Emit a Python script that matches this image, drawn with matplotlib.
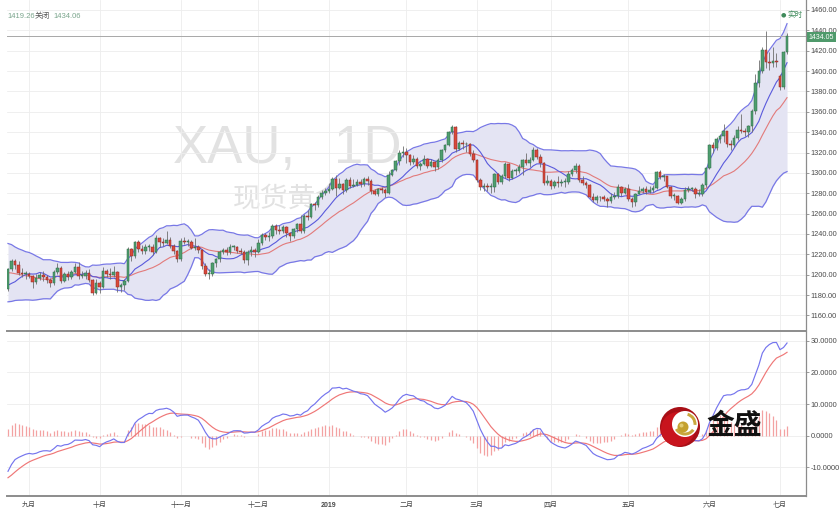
import numpy as np
import pandas as pd
import matplotlib
matplotlib.use("Agg")
import matplotlib.pyplot as plt
from matplotlib.patches import Circle, Wedge
from matplotlib.ticker import FixedLocator, FixedFormatter

plt.rcParams['font.family'] = ['Liberation Sans', 'Noto Sans CJK SC', 'DejaVu Sans']

# ---------------- data ----------------
# closes before the first visible bar (needed so that the indicators exist at the left edge)
pre_closes = [
    1341, 1333, 1333, 1326, 1332, 1336, 1339, 1353, 1334, 1345, 1347, 1346, 1349, 1345, 1336, 1324, 1333, 1322, 1317, 1323, 1315,
    1305, 1306, 1314, 1314, 1314, 1313, 1313, 1321, 1319, 1313, 1290, 1291, 1290, 1291, 1291, 1291, 1295, 1304, 1302, 1297, 1298, 1299, 1299,
    1294, 1292, 1291, 1296, 1298, 1298, 1300, 1294, 1299, 1302, 1278, 1282, 1276, 1269, 1269, 1270, 1267, 1257, 1253, 1247, 1253,
    1242, 1253, 1253, 1256, 1255, 1259, 1255, 1246, 1246, 1241, 1240, 1227, 1224, 1223, 1231, 1224, 1225, 1231, 1222, 1223, 1220, 1224,
    1217, 1213, 1214, 1208, 1211, 1213, 1212, 1212, 1194, 1194, 1174, 1177, 1184, 1190, 1196, 1195, 1186]

opens = [
    1186, 1206, 1213, 1210, 1202, 1201, 1201, 1199, 1193, 1197,
    1200, 1198, 1195, 1192, 1203, 1207, 1194, 1201, 1198, 1203,
    1208, 1199, 1199, 1202, 1195, 1182, 1192, 1188, 1204, 1201,
    1200, 1203, 1188, 1190, 1194, 1225, 1218, 1232, 1225, 1223,
    1227, 1227, 1222, 1236, 1232, 1231, 1234, 1228, 1223, 1215,
    1233, 1232, 1232, 1226, 1227, 1224, 1209, 1201, 1201, 1211,
    1215, 1222, 1224, 1222, 1227, 1227, 1223, 1222, 1214, 1222,
    1224, 1222, 1231, 1239, 1237, 1238, 1248, 1244, 1243, 1247,
    1241, 1238, 1245, 1250, 1243, 1258, 1257, 1269, 1268, 1276,
    1280, 1282, 1284, 1294, 1285, 1289, 1283, 1293, 1287, 1288,
    1291, 1289, 1294, 1292, 1282, 1279, 1284, 1283, 1280, 1298,
    1303, 1312, 1320, 1321, 1318, 1311, 1314, 1307, 1309, 1314,
    1307, 1311, 1306, 1313, 1322, 1327, 1340, 1345, 1323, 1329,
    1328, 1328, 1319, 1313, 1293, 1286, 1287, 1286, 1286, 1299,
    1291, 1297, 1309, 1295, 1302, 1302, 1306, 1313, 1310, 1313,
    1322, 1316, 1310, 1290, 1292, 1287, 1291, 1290, 1291, 1291,
    1299, 1303, 1307, 1293, 1290, 1288, 1276, 1273, 1276, 1276,
    1274, 1272, 1276, 1277, 1286, 1280, 1284, 1274, 1271, 1279,
    1282, 1284, 1281, 1283, 1285, 1301, 1296, 1297, 1286, 1277,
    1277, 1270, 1274, 1283, 1284, 1284, 1279, 1279, 1288, 1305,
    1327, 1324, 1333, 1336, 1341, 1328, 1327, 1334, 1342, 1341,
    1340, 1346, 1361, 1388, 1400, 1421, 1409, 1408, 1410, 1395,
    1384, 1419]

highs = [
    1207, 1215, 1215, 1213, 1207, 1204, 1203, 1200, 1201, 1203,
    1204, 1200, 1197, 1205, 1211, 1209, 1203, 1204, 1205, 1211,
    1212, 1204, 1205, 1206, 1196, 1196, 1194, 1208, 1206, 1207,
    1209, 1204, 1192, 1196, 1227, 1226, 1233, 1234, 1229, 1230,
    1230, 1230, 1239, 1237, 1236, 1243, 1237, 1230, 1224, 1236,
    1237, 1235, 1234, 1236, 1229, 1225, 1211, 1206, 1212, 1216,
    1224, 1226, 1227, 1230, 1229, 1228, 1226, 1224, 1224, 1228,
    1226, 1235, 1241, 1241, 1242, 1250, 1250, 1249, 1249, 1248,
    1242, 1246, 1251, 1259, 1260, 1264, 1270, 1271, 1278, 1283,
    1285, 1290, 1296, 1298, 1295, 1290, 1295, 1296, 1294, 1294,
    1294, 1296, 1297, 1294, 1284, 1285, 1286, 1285, 1302, 1304,
    1313, 1322, 1326, 1324, 1319, 1318, 1316, 1311, 1318, 1315,
    1314, 1312, 1315, 1323, 1328, 1341, 1347, 1346, 1331, 1332,
    1330, 1329, 1322, 1314, 1295, 1290, 1290, 1290, 1300, 1300,
    1299, 1311, 1310, 1304, 1305, 1309, 1314, 1320, 1316, 1325,
    1324, 1319, 1311, 1298, 1294, 1293, 1297, 1294, 1295, 1302,
    1305, 1310, 1309, 1297, 1292, 1289, 1280, 1278, 1277, 1278,
    1276, 1280, 1281, 1289, 1287, 1286, 1289, 1276, 1280, 1287,
    1286, 1287, 1287, 1288, 1302, 1303, 1299, 1297, 1287, 1280,
    1278, 1276, 1286, 1287, 1286, 1286, 1284, 1290, 1306, 1328,
    1330, 1335, 1338, 1348, 1341, 1332, 1337, 1346, 1358, 1344,
    1347, 1363, 1397, 1411, 1424, 1439, 1419, 1424, 1418, 1397,
    1420, 1437]

lows = [
    1184, 1204, 1206, 1200, 1198, 1196, 1197, 1187, 1191, 1195,
    1194, 1192, 1188, 1190, 1201, 1192, 1193, 1195, 1196, 1202,
    1196, 1197, 1196, 1193, 1180, 1181, 1182, 1187, 1198, 1196,
    1198, 1183, 1183, 1185, 1193, 1213, 1216, 1222, 1220, 1220,
    1223, 1219, 1221, 1227, 1228, 1230, 1226, 1220, 1212, 1213,
    1230, 1228, 1225, 1224, 1221, 1206, 1199, 1196, 1199, 1208,
    1212, 1220, 1219, 1220, 1224, 1221, 1220, 1211, 1210, 1218,
    1217, 1221, 1229, 1234, 1233, 1236, 1240, 1240, 1241, 1237,
    1233, 1236, 1242, 1241, 1241, 1254, 1256, 1264, 1266, 1274,
    1278, 1280, 1283, 1277, 1284, 1279, 1281, 1285, 1286, 1287,
    1286, 1287, 1288, 1279, 1278, 1277, 1280, 1276, 1279, 1297,
    1302, 1308, 1316, 1310, 1308, 1309, 1305, 1303, 1308, 1305,
    1306, 1302, 1304, 1311, 1321, 1326, 1338, 1321, 1322, 1323,
    1321, 1317, 1311, 1291, 1283, 1282, 1282, 1280, 1281, 1289,
    1289, 1295, 1292, 1294, 1298, 1300, 1298, 1308, 1306, 1312,
    1314, 1306, 1288, 1288, 1284, 1285, 1286, 1287, 1286, 1289,
    1297, 1300, 1291, 1288, 1285, 1275, 1271, 1270, 1272, 1272,
    1266, 1270, 1274, 1275, 1277, 1279, 1272, 1266, 1267, 1279,
    1280, 1279, 1280, 1281, 1284, 1294, 1292, 1285, 1275, 1273,
    1269, 1269, 1272, 1281, 1282, 1275, 1277, 1277, 1286, 1304,
    1320, 1322, 1329, 1330, 1325, 1322, 1325, 1332, 1339, 1336,
    1335, 1340, 1358, 1384, 1398, 1403, 1401, 1404, 1404, 1381,
    1382, 1417]

closes = [
    1206, 1213, 1210, 1202, 1201, 1201, 1199, 1193, 1197, 1200,
    1198, 1195, 1192, 1203, 1207, 1194, 1201, 1198, 1203, 1208,
    1199, 1199, 1202, 1195, 1182, 1192, 1188, 1204, 1201, 1200,
    1203, 1188, 1190, 1194, 1225, 1218, 1232, 1225, 1223, 1227,
    1227, 1222, 1236, 1232, 1231, 1234, 1228, 1223, 1215, 1233,
    1232, 1232, 1226, 1227, 1224, 1209, 1201, 1201, 1211, 1215,
    1222, 1224, 1222, 1227, 1227, 1223, 1222, 1214, 1222, 1224,
    1222, 1231, 1239, 1237, 1238, 1248, 1244, 1243, 1247, 1241,
    1238, 1245, 1250, 1243, 1258, 1257, 1269, 1268, 1276, 1280,
    1282, 1284, 1294, 1285, 1289, 1283, 1293, 1287, 1288, 1291,
    1289, 1294, 1292, 1282, 1279, 1284, 1283, 1280, 1298, 1303,
    1312, 1320, 1321, 1318, 1311, 1314, 1307, 1309, 1314, 1307,
    1311, 1306, 1313, 1322, 1327, 1340, 1345, 1323, 1329, 1328,
    1328, 1319, 1313, 1293, 1286, 1287, 1286, 1286, 1299, 1291,
    1297, 1309, 1295, 1302, 1302, 1306, 1313, 1310, 1313, 1322,
    1316, 1310, 1290, 1292, 1287, 1291, 1290, 1291, 1291, 1299,
    1303, 1307, 1293, 1290, 1288, 1276, 1273, 1276, 1276, 1274,
    1272, 1276, 1277, 1286, 1280, 1284, 1274, 1271, 1279, 1282,
    1284, 1281, 1283, 1285, 1301, 1296, 1297, 1286, 1277, 1277,
    1270, 1274, 1283, 1284, 1284, 1279, 1279, 1288, 1305, 1327,
    1324, 1333, 1336, 1341, 1328, 1327, 1334, 1342, 1341, 1340,
    1346, 1361, 1388, 1400, 1421, 1409, 1408, 1410, 1409, 1384,
    1419, 1434]

month_names = {9: '九月', 10: '十月', 11: '十一月', 12: '十二月', 1: '2019',
               2: '二月', 3: '三月', 4: '四月', 5: '五月', 6: '六月', 7: '七月'}
holidays = ['2018-12-25', '2019-01-01']
price_ticks = list(range(1160, 1461, 20))
macd_ticks = [-10, 0, 10, 20, 30]
last_price = 1434.06
header_open = '1419.26'
header_close = '1434.06'
price_label = '1434.05'

# ---------------- derived ----------------
n = min(len(opens), len(highs), len(lows), len(closes))
o = np.array(opens[:n], float); h = np.array(highs[:n], float)
l = np.array(lows[:n], float); c = np.array(closes[:n], float)
x = np.arange(n)

dates = pd.bdate_range('2018-08-24', '2019-07-03')
dates = dates[~dates.isin(pd.to_datetime(holidays))][:n]
mstart = [i for i in range(1, len(dates)) if dates[i].month != dates[i - 1].month]
mlabels = [month_names[dates[i].month] for i in mstart]

allc = pd.Series(list(pre_closes) + list(c))
k = len(pre_closes)
ma20 = allc.rolling(20).mean().values[k:]
sd20 = allc.rolling(20).std(ddof=0).values[k:]
ma10 = allc.rolling(10).mean().values[k:]
upper = ma20 + 2 * sd20
lower = ma20 - 2 * sd20
ema12 = allc.ewm(span=12, adjust=False).mean()
ema26 = allc.ewm(span=26, adjust=False).mean()
macd_all = ema12 - ema26
sig_all = macd_all.ewm(span=9, adjust=False).mean()
macd = macd_all.values[k:]
sig = sig_all.values[k:]
hist = macd - sig

# ---------------- figure ----------------
W, H = 839, 516
fig = plt.figure(figsize=(W / 100, H / 100), dpi=100)
fig.patch.set_facecolor('white')

x0, x1 = 7, 806
ax1 = fig.add_axes([x0 / W, 1 - 331 / H, (x1 - x0) / W, 331 / H])
ax2 = fig.add_axes([x0 / W, 1 - 496 / H, (x1 - x0) / W, (496 - 332) / H])

px_per_bar = 3.525
xl = (-1 / px_per_bar, (x1 - 8) / px_per_bar)
for ax in (ax1, ax2):
    ax.set_xlim(*xl)
    ax.set_facecolor('white')
    for s in ('top', 'left'):
        ax.spines[s].set_visible(False)
    ax.spines['right'].set_color('#8c8c8c')
    ax.spines['right'].set_linewidth(0.9)
    ax.spines['bottom'].set_color('#8c8c8c')
    ax.spines['bottom'].set_linewidth(1.4)
    ax.yaxis.tick_right()
    ax.tick_params(axis='y', which='both', labelsize=5.3, colors='#8c8c8c',
                   labelcolor='#4a4a4a', length=2.5, width=0.6, pad=1.0)
    ax.xaxis.set_major_locator(FixedLocator(mstart))
    ax.grid(True, color='#ededed', linewidth=0.6, zorder=0)
    ax.set_axisbelow(True)

# main panel
ax1.set_ylim(1144.7, 1469.8)
ax1.yaxis.set_major_locator(FixedLocator(price_ticks))
ax1.yaxis.set_major_formatter(FixedFormatter(['%.2f' % v for v in price_ticks]))
ax1.tick_params(axis='x', length=0, labelbottom=False)

ax1.text(173 / W, 1 - 163 / H, 'XAU,', transform=fig.transFigure, ha='left', va='baseline',
         fontsize=38, color='#e2e2e2', zorder=0.5)
ax1.text(402 / W, 1 - 163 / H, '1D', transform=fig.transFigure, ha='right', va='baseline',
         fontsize=38, color='#e2e2e2', zorder=0.5)
ax1.text(288 / W, 1 - 199 / H, '现货黄金', transform=fig.transFigure, ha='center', va='center',
         fontsize=20, color='#e2e2e2', family=['Noto Sans CJK SC', 'DejaVu Sans'], zorder=0.5)

ax1.fill_between(x, upper, lower, color='#e4e4f3', linewidth=0, zorder=1)
ax1.plot(x, upper, color='#7878e6', lw=0.9, zorder=2)
ax1.plot(x, lower, color='#7878e6', lw=0.9, zorder=2)
ax1.plot(x, ma20, color='#e27a7a', lw=0.8, zorder=2)
ax1.plot(x, ma10, color='#5a5adc', lw=0.8, zorder=2)
ax1.axhline(last_price, color='#a8a8a8', lw=0.7, zorder=2)

up = c >= o
bottom = np.minimum(o, c)
height = np.maximum(np.abs(c - o), 0.8)
ax1.vlines(x, l, h, color='#6e6e6e', lw=0.6, zorder=3)
ax1.bar(x[up], height[up], bottom=bottom[up], width=0.72, color='#4f9e6f',
        edgecolor='#2d6a47', linewidth=0.35, zorder=4)
ax1.bar(x[~up], height[~up], bottom=bottom[~up], width=0.72, color='#d9493c',
        edgecolor='#8e2a22', linewidth=0.35, zorder=4)

ax1.annotate(price_label, xy=(1.0, last_price), xycoords=('axes fraction', 'data'),
             xytext=(2.0, -0.6), textcoords='offset points', ha='left', va='center',
             fontsize=5.0, color='white', annotation_clip=False,
             bbox=dict(boxstyle='square,pad=0.22', fc='#4f9a6b', ec='none'))

# MACD panel
ax2.set_ylim(-19.1, 32.8)
ax2.yaxis.set_major_locator(FixedLocator(macd_ticks))
ax2.yaxis.set_major_formatter(FixedFormatter([('%.4f' % v) for v in macd_ticks]))
ax2.vlines(x, 0, hist, color='#f3a2a2', lw=0.9, zorder=2)
ax2.plot(x, sig, color='#ef7777', lw=0.85, zorder=3)
ax2.plot(x, macd, color='#7575ee', lw=0.85, zorder=3)
ax2.xaxis.set_major_formatter(FixedFormatter(mlabels))
ax2.tick_params(axis='x', length=0, labelsize=5, labelcolor='#4a4a4a', pad=4)
for t in ax2.get_xticklabels():
    if t.get_text().isdigit():
        t.set_fontweight('bold')

# header texts
fig.text(7 / W, 1 - 16.7 / H, header_open, fontsize=5.5, color='#7aa58c', va='center', ha='left')
fig.text(35 / W, 1 - 16.7 / H, '关闭', fontsize=5.5, color='#555555', va='center', ha='left')
fig.text(53 / W, 1 - 16.7 / H, header_close, fontsize=5.5, color='#7aa58c', va='center', ha='left')
fig.text(783 / W, 1 - 15.3 / H, '●', fontsize=4.5, color='#3f8a5b', va='center', ha='center',
         family=['DejaVu Sans'])
fig.text(787.5 / W, 1 - 15.3 / H, '实时', fontsize=5.5, color='#3f8a5b', va='center', ha='left')

# logo overlay (pixel coordinates)
axl = fig.add_axes([0, 0, 1, 1], zorder=10)
axl.set_xlim(0, W)
axl.set_ylim(H, 0)
axl.axis('off')
axl.patch.set_alpha(0)
axl.add_patch(Circle((680, 427), 20, fc='#a80f16', ec='none'))
axl.add_patch(Circle((678, 429), 17, fc='#c8141d', ec='none'))
axl.add_patch(Circle((685, 424), 13, fc='white', ec='none'))
axl.add_patch(Wedge((685, 424), 11.5, 35, 150, width=3, fc='#c9a63c', ec='none'))
axl.add_patch(Wedge((685, 424), 11.5, -75, 5, width=3, fc='#c9a63c', ec='none'))
axl.add_patch(Circle((683, 427), 5.5, fc='#c4a12e', ec='none'))
axl.add_patch(Circle((681.5, 425.5), 2.0, fc='#e3cc72', ec='none'))
axl.text(706, 426, '金盛', fontsize=20, fontweight='bold', color='#111111', va='center', ha='left',
         family=['Noto Sans CJK SC', 'DejaVu Sans'])

fig.savefig('out.png', dpi=100, facecolor='white')
